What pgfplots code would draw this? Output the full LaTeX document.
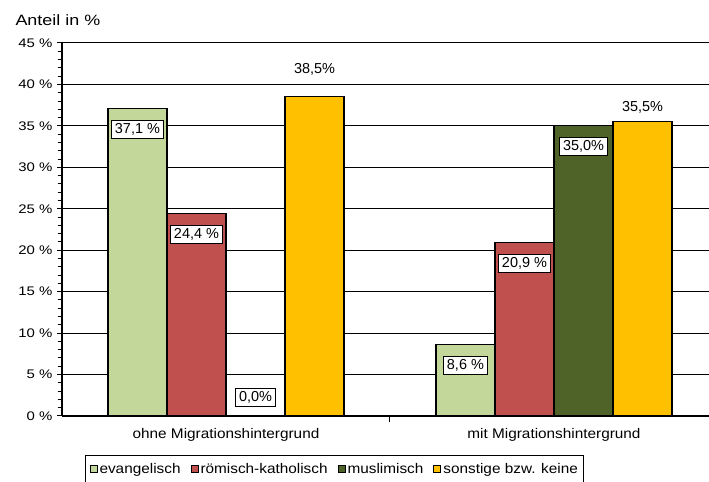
\documentclass[border=0pt]{standalone}
\usepackage{fontspec}
\setmainfont{Liberation Sans}
\newfontfamily\widef{Liberation Sans}[FakeStretch=1.2]
\newfontfamily\midf{Liberation Sans}[FakeStretch=1.1]
\usepackage{pgfplots}
\usepackage{pgfplotstable}
\pgfplotsset{compat=1.18}
\definecolor{cEv}{RGB}{196,215,155}
\definecolor{cKa}{RGB}{192,80,77}
\definecolor{cMu}{RGB}{79,98,40}
\definecolor{cSo}{RGB}{255,192,0}

\pgfplotstableread{
x y off label
0 37.1 -21.5 {37,1 \%}
1 8.6 -20.5 {8,6 \%}
}\tEv
\pgfplotstableread{
x y off label
0 24.4 -21 {24,4 \%}
1 20.9 -21 {20,9 \%}
}\tKa
\pgfplotstableread{
x y off label
0 0.0 18 {0,0\%}
1 35.0 -21 {35,0\%}
}\tMu
\pgfplotstableread{
x y off label
0 38.5 27 {38,5\%}
1 35.5 14 {35,5\%}
}\tSo

\begin{document}
\begin{tikzpicture}
\begin{axis}[
  scale only axis, width=647bp, height=373bp,
  xmin=-0.5, xmax=1.4726,
  ymin=0, ymax=45,
  clip=false,
  ytick={0,5,...,45},
  minor y tick num=4,
  yticklabel={\pgfmathprintnumber{\tick} \%},
  /pgf/number format/assume math mode=true,
  tick align=outside,
  major tick length=5bp, minor tick length=4bp,
  every tick/.style={black, line width=1bp},
  axis x line*=bottom, axis y line*=left,
  x axis line style={line width=2bp},
  y axis line style={line width=1.5bp},
  ymajorgrids, grid style={black, line width=1bp},
  xtick={0,1},
  xticklabels={ohne Migrationshintergrund, mit Migrationshintergrund},
  xtick style={draw=none},
  x tick label style={font=\midf\fontsize{14}{16}\selectfont, yshift=-4bp},
  y tick label style={font=\widef\fontsize{12.5}{15}\selectfont, xshift=-1bp},
  ybar=0pt, bar width=0.18,
  legend image code/.code={\draw[#1,draw=black,line width=1bp] (0bp,-3.5bp) rectangle (7bp,3.5bp);},
  legend columns=4,
  legend style={at={(rel axis cs:0.4215,0)}, anchor=north, yshift=-39bp,
    draw=black, line width=1bp, font=\midf\fontsize{14}{16}\selectfont,
    inner xsep=4bp, inner ysep=6bp,
    /tikz/every even column/.append style={column sep=8bp}},
  point meta=explicit symbolic,
  nodes near coords,
  visualization depends on={\thisrow{off} \as \myoff},
  every node near coord/.append style={anchor=center, yshift=\myoff bp,
    font=\fontsize{14.5}{16}\selectfont, text height=10.5bp, text depth=2.5bp},
]
\addplot[fill=cEv, draw=black, line width=1.2bp, bar shift=-0.27,
  every node near coord/.append style={draw=black, fill=white, line width=1bp, inner xsep=3.5bp, inner ysep=2.5bp}]
  table[x=x, y=y, meta=label] {\tEv};
\addplot[fill=cKa, draw=black, line width=1.2bp, bar shift=-0.09,
  every node near coord/.append style={draw=black, fill=white, line width=1bp, inner xsep=3.5bp, inner ysep=2.5bp}]
  table[x=x, y=y, meta=label] {\tKa};
\addplot[fill=cMu, draw=black, line width=1.2bp, bar shift=0.09,
  every node near coord/.append style={draw=black, fill=white, line width=1bp, inner xsep=3.5bp, inner ysep=2.5bp}]
  table[x=x, y=y, meta=label] {\tMu};
\addplot[fill=cSo, draw=black, line width=1.2bp, bar shift=0.27]
  table[x=x, y=y, meta=label] {\tSo};
\legend{evangelisch, römisch-katholisch, muslimisch, sonstige bzw. keine}
\coordinate (mid) at (axis cs:0.5,0);
\coordinate (ll) at (rel axis cs:0,0);
\coordinate (ul) at (rel axis cs:0,1);
\coordinate (ur) at (rel axis cs:1,1);
\end{axis}
\draw[line width=1bp] (mid) -- ([yshift=-6bp]mid);
\node[anchor=west, font=\widef\fontsize{15}{17}\selectfont] at ([xshift=-50bp, yshift=23bp]ul) {Anteil in \%};
\pgfresetboundingbox
\path[use as bounding box] ([xshift=-62bp,yshift=-66bp]ll) rectangle ([yshift=43bp]ur);
\end{tikzpicture}
\end{document}
